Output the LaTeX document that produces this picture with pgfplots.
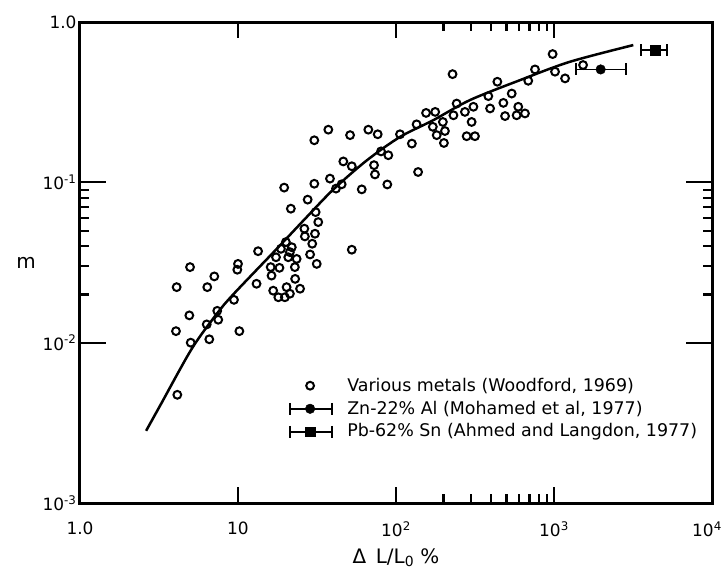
\documentclass[border=0pt]{standalone}
\usepackage{pgfplots}
\pgfplotsset{compat=1.18}
\usepackage{fontspec}
\setmainfont{DejaVu Sans}
\begin{document}
\begin{tikzpicture}
\begin{axis}[
  scale only axis, width=632bp, height=481bp,
  xmode=log, ymode=log,
  xmin=1, xmax=10000, ymin=0.001, ymax=1,
  axis line style={line width=3bp},
  every tick/.style={black, line width=2.2bp},
  font=\fontsize{17}{20}\selectfont,
  major tick length=16bp, minor tick length=9bp,
  xtick={1,10,100,1000,10000},
  xticklabels={1.0,10,10\textsuperscript{2},10\textsuperscript{3},\hspace*{-10bp}10\textsuperscript{4}},
  minor xtick={200,300,400,500,600,700,800,900},
  ytick={0.001,0.01,0.1,1},
  yticklabels={10\textsuperscript{-3},10\textsuperscript{-2},10\textsuperscript{-1},1.0},
  minor ytick={0.02,0.03,0.04,0.05,0.06,0.07,0.08,0.09},
  xticklabel style={yshift=-15bp},
  xlabel={Δ\, L/L\textsubscript{0} \%},
  xlabel style={font=\fontsize{20}{24}\selectfont, yshift=-5bp},
  ylabel={m},
  ylabel style={rotate=-90, font=\fontsize{20}{24}\selectfont},
]
% Various metals (Woodford, 1969)
\addplot[only marks, mark=o, mark size=3.9bp, mark options={line width=2bp}] table {
x y
13.4 0.0372
4.97 0.0296
10.0 0.0310
9.9 0.0285
7.08 0.0259
4.09 0.0222
6.39 0.0222
13.1 0.0233
9.43 0.0185
7.39 0.0158
4.92 0.0148
7.5 0.0139
6.34 0.0130
4.05 0.0118
10.2 0.0118
5.02 0.0100
6.58 0.0105
4.13 0.00473
19.6 0.0927
30.4 0.098
38.2 0.1055
41.7 0.0914
45.3 0.0972
21.6 0.0685
27.6 0.078
31.0 0.0652
32.2 0.0565
26.3 0.0514
26.5 0.046
30.7 0.0478
29.5 0.0414
28.6 0.0355
31.5 0.031
20.1 0.0424
21.9 0.0394
21.3 0.0367
20.8 0.0341
23.5 0.0333
22.9 0.0296
18.7 0.0385
17.4 0.0341
16.1 0.0296
16.3 0.0262
18.3 0.0293
23.0 0.025
24.7 0.0217
20.3 0.0222
16.7 0.0211
18.0 0.0192
19.8 0.0192
21.3 0.0202
52.5 0.038
155 0.271
177 0.275
30.4 0.183
37.3 0.213
51.2 0.197
66.8 0.213
76.6 0.1995
106 0.1995
135 0.23
126 0.1745
171 0.222
181 0.197
80.4 0.156
89.4 0.1476
46.4 0.135
52.5 0.126
72.6 0.128
73.6 0.112
60.7 0.0904
88.1 0.097
138 0.116
980 0.631
228 0.473
758 0.506
1015 0.49
1175 0.445
687 0.430
438 0.424
540 0.358
384 0.345
478 0.313
394 0.289
594 0.296
580 0.262
655 0.269
490 0.259
242 0.310
231 0.262
273 0.275
309 0.296
301 0.238
280 0.194
316 0.194
198 0.238
204 0.209
201 0.176
1527 0.539
};
% fitted curve
\addplot[smooth, line width=2.5bp] table {
x y
2.62 0.00282
3.21 0.00404
5.09 0.00914
7.33 0.0151
9.33 0.0200
17.6 0.0385
27.2 0.0607
40.1 0.0902
65.3 0.137
106 0.192
172 0.244
294 0.326
610 0.434
1262 0.565
3177 0.718
};
% Zn-22% Al : error bar and point
\addplot[line width=1.8bp, mark=|, mark size=6bp, mark options={line width=1.8bp}]
  coordinates {(1378,0.506) (2855,0.506)};
\addplot[only marks, mark=*, mark size=4.8bp] coordinates {(1974,0.506)};
% Pb-62% Sn : error bar and point
\addplot[line width=1.8bp, mark=|, mark size=6bp, mark options={line width=1.8bp}]
  coordinates {(3538,0.668) (5166,0.668)};
\addplot[only marks, mark=square*, mark size=4.8bp] coordinates {(4355,0.668)};
% ---- legend (key symbols drawn on the axes, texts beside them) ----
\addplot[only marks, mark=o, mark size=3.9bp, mark options={line width=2bp}]
  coordinates {(28.6,0.00539)};
\addplot[line width=1.8bp, mark=|, mark size=6bp, mark options={line width=1.8bp}]
  coordinates {(21.3,0.00387) (39.4,0.00387)};
\addplot[only marks, mark=*, mark size=4.8bp] coordinates {(28.6,0.00387)};
\addplot[line width=1.8bp, mark=|, mark size=6bp, mark options={line width=1.8bp}]
  coordinates {(21.3,0.00278) (39.4,0.00278)};
\addplot[only marks, mark=square*, mark size=4.8bp] coordinates {(28.6,0.00278)};
\node[anchor=west, inner sep=0pt, font=\fontsize{17.5}{20}\selectfont] at (axis cs:49,0.00539) {Various metals (Woodford, 1969)};
\node[anchor=west, inner sep=0pt, font=\fontsize{17.5}{20}\selectfont] at (axis cs:49,0.00387) {Zn-22\% Al (Mohamed et al, 1977)};
\node[anchor=west, inner sep=0pt, font=\fontsize{17.5}{20}\selectfont] at (axis cs:49,0.00278) {Pb-62\% Sn (Ahmed and Langdon, 1977)};
\end{axis}
% longer major ticks on the y axes
\begin{axis}[
  scale only axis, width=632bp, height=481bp,
  xmode=log, ymode=log,
  xmin=1, xmax=10000, ymin=0.001, ymax=1,
  axis line style={draw=none},
  every tick/.style={black, line width=2.2bp},
  major tick length=26bp,
  xtick=\empty, minor xtick={},
  ytick={0.01,0.1}, yticklabels={}, minor ytick={},
]
\end{axis}
\pgfresetboundingbox
\useasboundingbox (-80bp,-71bp) rectangle (644bp,503bp);
\end{tikzpicture}
\end{document}
